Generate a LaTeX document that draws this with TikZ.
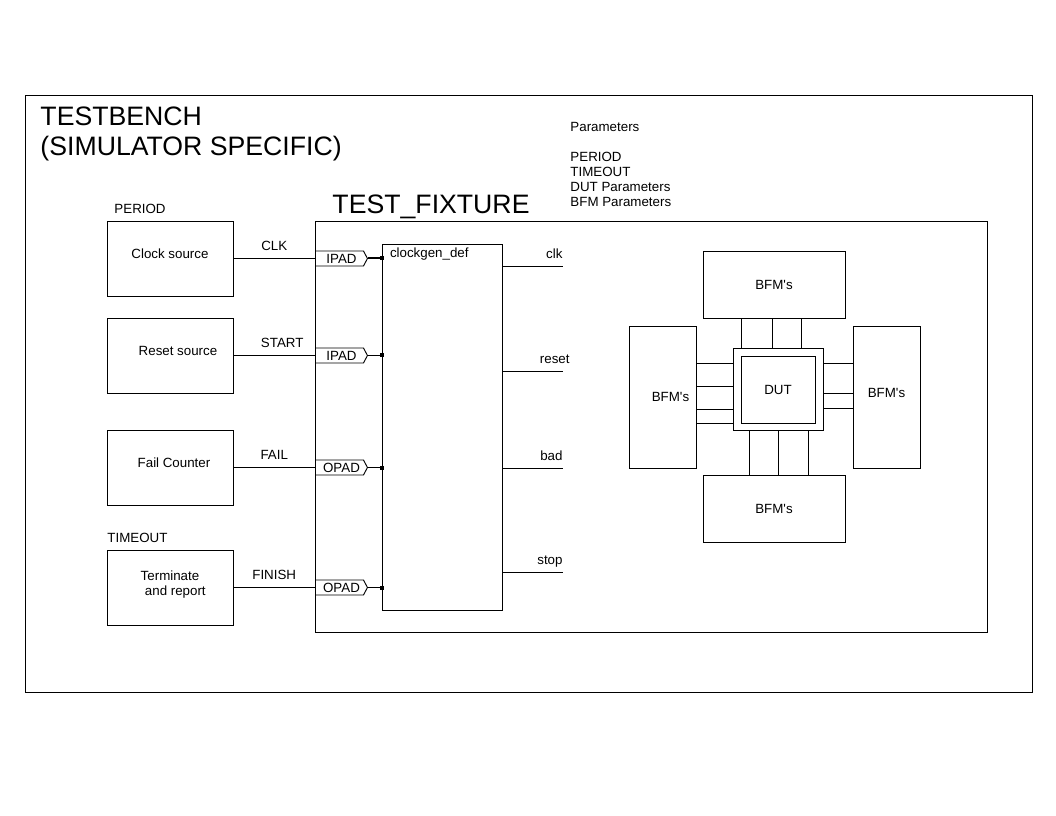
\documentclass[tikz,border=0pt]{standalone}
\usepackage{fontspec}
\setmainfont{Liberation Sans}
\usetikzlibrary{positioning, shapes.symbols}

\begin{document}
\begin{tikzpicture}[
  x=0.75pt, y=-0.75pt,
  line width=0.7pt,
  every node/.style={font=\fontsize{10}{11.25}\selectfont, inner sep=0pt},
  big/.style={font=\fontsize{20}{22.5}\selectfont},
  srcbox/.style={draw, minimum width=94.5pt, minimum height=56.25pt, align=center, text depth=6.8pt},
  bfm/.style={draw, minimum width=106.5pt, minimum height=50.25pt},
  bfmside/.style={draw, minimum width=50.25pt, minimum height=106.5pt},
  pad/.style={draw, shape=signal, signal to=east, signal pointer angle=124,
    minimum width=39pt, minimum height=11.25pt},
  port/.style={fill, minimum size=3pt},
  sig/.style={midway, above=5.6pt},
  outlbl/.style={anchor=base east, yshift=5.3pt}
]
\useasboundingbox (0,0) rectangle (1056,816);

% frames
\draw (25,95) rectangle (1032,692);
\draw (315,221) rectangle (987,632);

\node[big, anchor=base west] (tbtitle) at (40,126) {TESTBENCH};
\node[big, anchor=base west] (tbsub) at (40,156) {(SIMULATOR SPECIFIC)};
\node[big, anchor=base west] (fixture) at (332,214) {TEST\_FIXTURE};

% parameters
\node[anchor=base west] (parhead) at (570,131.5) {Parameters};
\node[anchor=base west] (parperiod) at (570,161.5) {PERIOD};
\node[anchor=base west] (partimeout) at (570,176.5) {TIMEOUT};
\node[anchor=base west] (pardut) at (570,191.5) {DUT Parameters};
\node[anchor=base west] (parbfm) at (570,206.5) {BFM Parameters};

% sources
\node[anchor=base west] (periodlbl) at (114,213.5) {PERIOD};
\node[anchor=base west] (timeoutlbl) at (107,542.5) {TIMEOUT};
\node[srcbox] (clock) at (170,258.5) {Clock source};
\node[srcbox] (reset) at (170,355.5) {\hspace{12pt}Reset source};
\node[srcbox] (fail) at (170,467.5) {\hspace{6pt}Fail Counter};
\node[srcbox] (term) at (170,587.5) {Terminate\\ \hspace{8pt}and report};

% clock generator
\node[draw, minimum width=90pt, minimum height=274.5pt] (block) at (442,427) {};
\node[anchor=base west] (blocklbl) at ([xshift=6pt, yshift=-10.5pt]block.north west) {clockgen\_def};

% pads
\node[pad, anchor=west] (padclk) at (clock.east -| 315,0) {\hspace{3pt}IPAD};
\node[pad, anchor=west] (padstart) at (reset.east -| 315,0) {\hspace{3pt}IPAD};
\node[pad, anchor=west] (padfail) at (fail.east -| 315,0) {\hspace{3pt}OPAD};
\node[pad, anchor=west] (padfinish) at (term.east -| 315,0) {\hspace{3pt}OPAD};

\node[port] (portclk) at (padclk.east -| block.west) {};
\node[port] (portstart) at (padstart.east -| block.west) {};
\node[port] (portfail) at (padfail.east -| block.west) {};
\node[port] (portfinish) at (padfinish.east -| block.west) {};

\draw (clock.east) -- node[sig] (clklbl) {CLK} (padclk.west);
\draw (reset.east) -- node[sig, xshift=6pt] (startlbl) {START} (padstart.west);
\draw (fail.east) -- node[sig] (faillbl) {FAIL} (padfail.west);
\draw (term.east) -- node[sig] (finishlbl) {FINISH} (padfinish.west);

\draw[line width=1.5pt] (padclk.east) -- (portclk.center);
\draw (padstart.east) -- (portstart.center);
\draw (padfail.east) -- (portfail.center);
\draw (padfinish.east) -- (portfinish.center);

% outputs
\coordinate (clkout) at (563,266);
\coordinate (resetout) at (563,371);
\coordinate (badout) at (563,468);
\coordinate (stopout) at (563,572);
\draw (block.east |- clkout) -- (clkout) node[outlbl] (clkname) {clk};
\draw (block.east |- resetout) -- (resetout) node[outlbl, xshift=5.25pt] (resetname) {reset};
\draw (block.east |- badout) -- (badout) node[outlbl] (badname) {bad};
\draw (block.east |- stopout) -- (stopout) node[outlbl] (stopname) {stop};

% DUT and BFMs
\node[draw, minimum width=67.5pt, minimum height=61.5pt] (dutframe) at (778,389) {};
\node[draw, minimum width=55.5pt, minimum height=50.25pt] (dut) at (778,389.5) {DUT};
\node[bfm] (bfmtop) at (774,284.5) {BFM\textquotesingle s};
\node[bfm] (bfmbot) at (774,508.5) {BFM\textquotesingle s};
\node[bfmside] (bfmleft) at (662.5,397) {\hspace{12pt}BFM\textquotesingle s};
\node[bfmside] (bfmright) at (886.5,397) {\raisebox{6pt}{BFM\textquotesingle s}};

\foreach \x in {741,772,801}
  \draw (bfmtop.south -| \x,0) -- (dutframe.north -| \x,0);
\foreach \x in {749,778,808}
  \draw (dutframe.south -| \x,0) -- (bfmbot.north -| \x,0);
\foreach \y in {363,386,409,423}
  \draw (bfmleft.east |- 0,\y) -- (dutframe.west |- 0,\y);
\foreach \y in {363,393,408}
  \draw (dutframe.east |- 0,\y) -- (bfmright.west |- 0,\y);
\end{tikzpicture}
\end{document}
